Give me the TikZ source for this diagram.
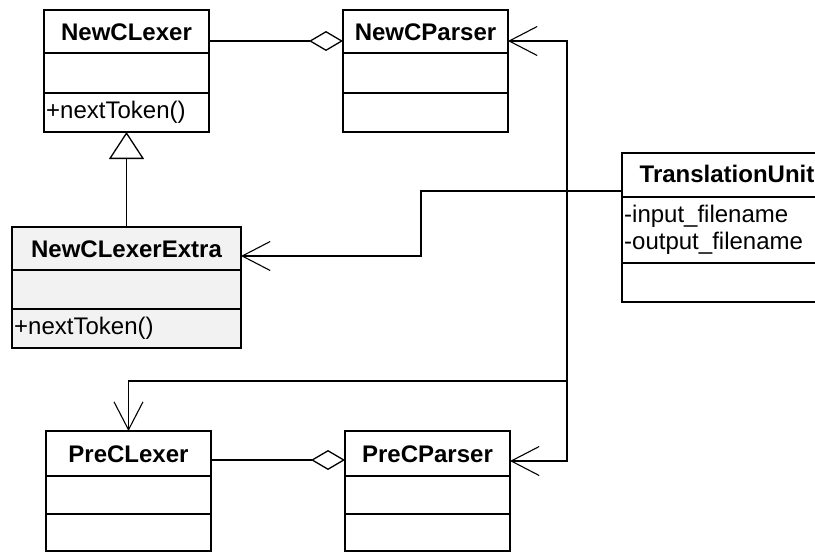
\documentclass[tikz,border=0pt]{standalone}
\usepackage{fontspec}
\setmainfont{Liberation Sans}
\usetikzlibrary{arrows.meta}
\definecolor{extragray}{HTML}{F2F2F2}
\tikzset{
  classbox/.style={draw, line width=2pt, inner sep=0pt, outer sep=0pt, anchor=north west, fill=white},
  divider/.style={line width=2pt},
  classtitle/.style={inner sep=0pt, font=\fontsize{24}{27}\selectfont\bfseries},
  member/.style={inner sep=0pt, anchor=west, align=left, font=\fontsize{24}{27}\selectfont},
  conn/.style={line width=1.1pt},
  assoc/.style={conn, -{Straight Barb[length=28pt, width=29pt, line width=1.1pt]}},
  aggr/.style={conn, -{Diamond[open, length=34pt, width=20pt, line width=1.3pt]}},
  inherit/.style={conn, -{Triangle[open, length=27pt, width=35pt, line width=1.3pt]}}
}
\begin{document}
\begin{tikzpicture}[x=1pt, y=-1pt]
\useasboundingbox (0,0) rectangle (815,552);

% NewCLexer
\node[classbox, minimum width=165pt, minimum height=122pt] (ncl) at (44,10) {};
\draw[divider] ([yshift=-43pt]ncl.north west) -- ([yshift=-43pt]ncl.north east);
\draw[divider] ([yshift=-83pt]ncl.north west) -- ([yshift=-83pt]ncl.north east);
\node[classtitle] (ncltitle) at ([yshift=-22pt]ncl.north) {NewCLexer};
\node[member] (nclop) at ([xshift=2pt, yshift=-102.5pt]ncl.north west) {+nextToken()};

% NewCParser
\node[classbox, minimum width=165pt, minimum height=122pt] (ncp) at (343,10) {};
\draw[divider] ([yshift=-43pt]ncp.north west) -- ([yshift=-43pt]ncp.north east);
\draw[divider] ([yshift=-83pt]ncp.north west) -- ([yshift=-83pt]ncp.north east);
\node[classtitle] (ncptitle) at ([yshift=-22pt]ncp.north) {NewCParser};

% NewCLexerExtra
\node[classbox, fill=extragray, minimum width=229pt, minimum height=121pt] (ncle) at (12,227) {};
\draw[divider] ([yshift=-43pt]ncle.north west) -- ([yshift=-43pt]ncle.north east);
\draw[divider] ([yshift=-82pt]ncle.north west) -- ([yshift=-82pt]ncle.north east);
\node[classtitle] (ncletitle) at ([yshift=-22pt]ncle.north) {NewCLexerExtra};
\node[member] (ncleop) at ([xshift=2pt, yshift=-101.5pt]ncle.north west) {+nextToken()};

% TranslationUnit
\node[classbox, minimum width=210pt, minimum height=149pt] (tu) at (622,153) {};
\draw[divider] ([yshift=-44pt]tu.north west) -- ([yshift=-44pt]tu.north east);
\draw[divider] ([yshift=-110pt]tu.north west) -- ([yshift=-110pt]tu.north east);
\node[classtitle] (tutitle) at ([yshift=-21pt]tu.north) {TranslationUnit};
\node[member] (tuattr) at ([xshift=2pt, yshift=-77pt]tu.north west) {-input\_filename\\-output\_filename};

% PreCLexer
\node[classbox, minimum width=165pt, minimum height=120pt] (pcl) at (46,431) {};
\draw[divider] ([yshift=-45pt]pcl.north west) -- ([yshift=-45pt]pcl.north east);
\draw[divider] ([yshift=-83pt]pcl.north west) -- ([yshift=-83pt]pcl.north east);
\node[classtitle] (pcltitle) at ([yshift=-23pt]pcl.north) {PreCLexer};

% PreCParser
\node[classbox, minimum width=165pt, minimum height=120pt] (pcp) at (345,431) {};
\draw[divider] ([yshift=-45pt]pcp.north west) -- ([yshift=-45pt]pcp.north east);
\draw[divider] ([yshift=-83pt]pcp.north west) -- ([yshift=-83pt]pcp.north east);
\node[classtitle] (pcptitle) at ([yshift=-23pt]pcp.north) {PreCParser};

% bend points
\coordinate (tuout) at ([yshift=-38pt]tu.north west);
\coordinate (junction) at (567,191);
\coordinate (bend) at (421,191);
\coordinate (lowbend) at (567,381);

% aggregations
\draw[aggr] ([yshift=-31pt]ncl.north east) -- ([yshift=-31pt]ncp.north west);
\draw[aggr] ([yshift=-29pt]pcl.north east) -- ([yshift=-29pt]pcp.north west);

% inheritance
\draw[inherit] (ncle.north) -- (ncl.south);

% associations from TranslationUnit
\draw[assoc] (tuout) -- (junction) |- ([yshift=-31pt]ncp.north east);
\draw[assoc] (tuout) -- (bend) |- ([yshift=-29pt]ncle.north east);
\draw[assoc] (tuout) -- (junction) -- (lowbend) -| (pcl.north);
\draw[assoc] (tuout) -- (junction) |- ([yshift=-30pt]pcp.north east);
\end{tikzpicture}
\end{document}
